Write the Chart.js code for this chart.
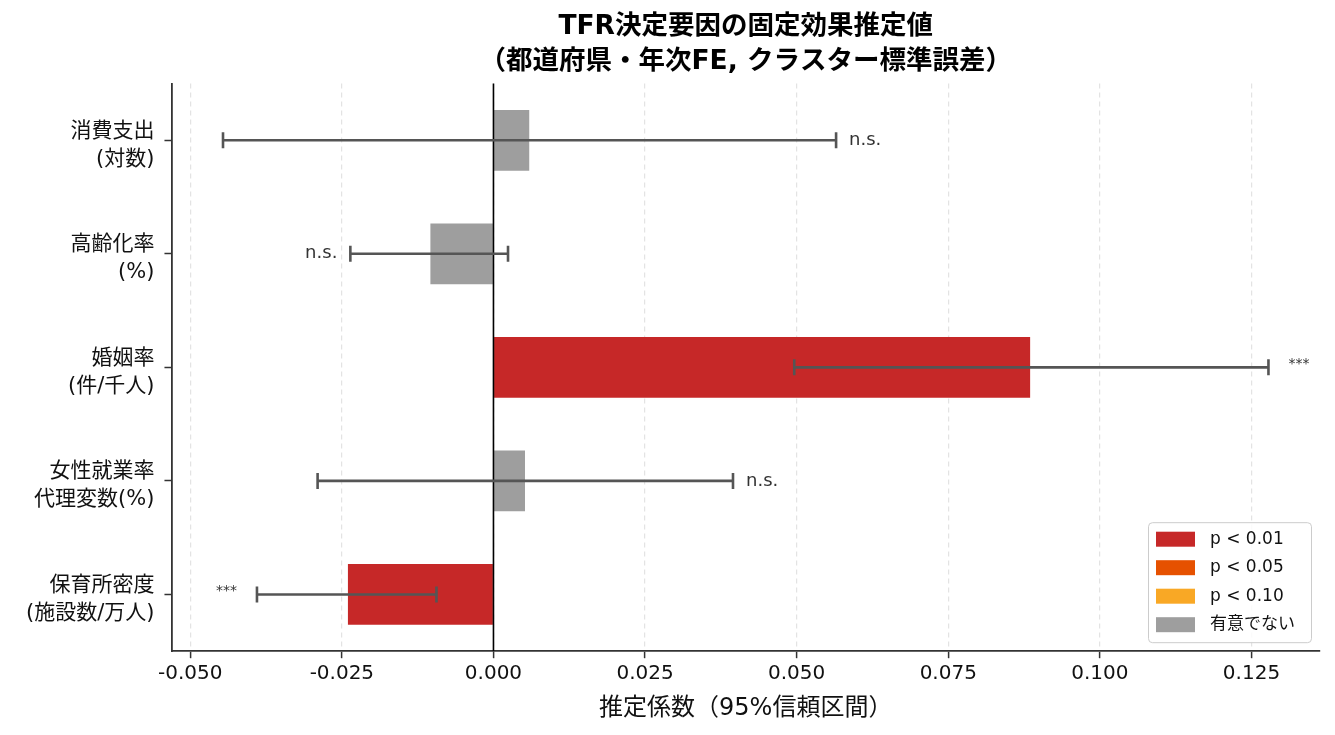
<!DOCTYPE html>
<html lang="ja">
<head>
<meta charset="utf-8">
<title>TFR決定要因の固定効果推定値</title>
<script src="https://cdn.jsdelivr.net/npm/chart.js@4.4.1/dist/chart.umd.min.js"></script>
<style>
    html, body { margin: 0; padding: 0; background: #fff; }
    #wrap { width: 1335px; height: 735px; }
</style>
</head>
<body>
<div id="wrap"><canvas id="bar" width="1335" height="735"></canvas></div>
<script>
'use strict';

// 説明変数（上から順）
const categories = [
    ['消費支出', '(対数)'],
    ['高齢化率', '(%)'],
    ['婚姻率', '(件/千人)'],
    ['女性就業率', '代理変数(%)'],
    ['保育所密度', '(施設数/万人)']
];

// 推定係数と95%信頼区間
const coef   = [0.0059, -0.0104, 0.0885, 0.0052, -0.0240];
const ciLow  = [-0.0446, -0.0236, 0.0496, -0.0290, -0.0390];
const ciHigh = [0.0565, 0.0024, 0.1278, 0.0395, -0.0094];

// 有意性ラベル
const sigLabels = ['n.s.', 'n.s.', '***', 'n.s.', '***'];

// x軸の目盛り
const xTicks = [-0.05, -0.025, 0, 0.025, 0.05, 0.075, 0.1, 0.125];

// 凡例
const legendLabels = ['p < 0.01', 'p < 0.05', 'p < 0.10', '有意でない'];
const legendColors = ['#c62828', '#e65100', '#f9a825', '#9e9e9e'];

// 欧文は DejaVu、和文は Noto CJK にフォールバック
const FONT = '"DejaVu Sans", "Noto Sans CJK JP", sans-serif';
Chart.defaults.font.family = FONT;

// 有意性 -> 色
function sigColor(s) {
    if (s === '***') return legendColors[0];
    if (s === '**') return legendColors[1];
    if (s === '*') return legendColors[2];
    return legendColors[3];
}

// 誤差棒・ゼロ線・注記・凡例を描くプラグイン
const overlay = {
    id: 'overlay',
    afterDraw(chart) {
        const ctx = chart.ctx;
        const xs = chart.scales.x;
        const ys = chart.scales.y;
        const area = chart.chartArea;

        ctx.save();
        // ゼロ線
        const x0 = xs.getPixelForValue(0);
        ctx.strokeStyle = '#000';
        ctx.lineWidth = 1.6;
        ctx.beginPath();
        ctx.moveTo(x0, area.top);
        ctx.lineTo(x0, area.bottom);
        ctx.stroke();

        // 誤差棒
        ctx.strokeStyle = '#555';
        ctx.lineWidth = 2.6;
        for (let i = 0; i < coef.length; i++) {
            const y = ys.getPixelForValue(i);
            const a = xs.getPixelForValue(ciLow[i]);
            const b = xs.getPixelForValue(ciHigh[i]);
            ctx.beginPath();
            ctx.moveTo(a, y); ctx.lineTo(b, y);
            ctx.moveTo(a, y - 8); ctx.lineTo(a, y + 8);
            ctx.moveTo(b, y - 8); ctx.lineTo(b, y + 8);
            ctx.stroke();

            // 注記（*** は少し上に）
            const s = sigLabels[i];
            const ns = s === 'n.s.';
            ctx.fillStyle = '#333';
            ctx.textBaseline = 'middle';
            ctx.font = (ns ? '18px ' : '14px ') + FONT;
            const off = ns ? 13 : 20;
            const ty = ns ? y : y - 3;
            if (coef[i] >= 0) {
                ctx.textAlign = 'left';
                ctx.fillText(s, b + off, ty);
            } else {
                ctx.textAlign = 'right';
                ctx.fillText(s, a - off, ty);
            }
        }

        // 凡例
        const w = 163, h = 120;
        const lx = area.right - 9 - w;
        const ly = area.bottom - 9 - h;
        ctx.fillStyle = 'rgba(255,255,255,0.85)';
        ctx.strokeStyle = '#ccc';
        ctx.lineWidth = 1;
        ctx.beginPath();
        ctx.roundRect(lx + 0.5, ly + 0.5, w, h, 4);
        ctx.fill();
        ctx.stroke();
        ctx.font = '17px ' + FONT;
        ctx.textAlign = 'left';
        ctx.textBaseline = 'middle';
        for (let i = 0; i < legendLabels.length; i++) {
            const cy = ly + 17 + i * 28.5;
            ctx.fillStyle = legendColors[i];
            ctx.fillRect(lx + 8, cy - 7.5, 39, 15);
            ctx.fillStyle = '#111';
            ctx.fillText(legendLabels[i], lx + 62, cy);
        }
        ctx.restore();
    }
};

const bar = document.getElementById('bar');
const barChart = new Chart(bar, {
    type: 'bar',
    data: {
        labels: categories,
        datasets: [{
            data: coef,
            backgroundColor: sigLabels.map(sigColor),
            borderWidth: 0,
            barPercentage: 0.535,
            categoryPercentage: 1.0
        }]
    },
    options: {
        indexAxis: 'y',
        responsive: false,
        animation: false,
        devicePixelRatio: 1,
        layout: { padding: { left: 16, right: 15, top: 0, bottom: 12 } },
        plugins: {
            legend: { display: false },
            tooltip: { enabled: false },
            title: {
                display: true,
                fullSize: false,
                text: ['TFR決定要因の固定効果推定値', '（都道府県・年次FE, クラスター標準誤差）'],
                color: '#000',
                font: { size: 26.5, weight: 'bold', lineHeight: 1.33 },
                padding: { top: 9, bottom: 4 }
            }
        },
        scales: {
            x: {
                type: 'linear',
                min: -0.0531,
                max: 0.1363,
                z: 1,
                afterBuildTicks: (s) => { s.ticks = xTicks.map(v => ({ value: v })); },
                grid: {
                    color: 'rgba(176,176,176,0.35)',
                    lineWidth: 1.2,
                    tickColor: '#333',
                    tickLength: 7,
                    tickWidth: 1.5
                },
                border: { display: true, color: '#333', width: 1.8, dash: [5, 4] },
                ticks: {
                    font: { size: 20 },
                    color: '#111',
                    padding: 4,
                    maxRotation: 0,
                    callback: (v) => Number(v).toFixed(3)
                },
                title: {
                    display: true,
                    text: '推定係数（95%信頼区間）',
                    color: '#111',
                    font: { size: 24 },
                    padding: { top: 4, bottom: 0 }
                }
            },
            y: {
                type: 'category',
                offset: true,
                grid: {
                    offset: false,
                    drawOnChartArea: false,
                    drawTicks: true,
                    tickLength: 7,
                    tickColor: '#333',
                    tickWidth: 1.5
                },
                border: { color: '#333', width: 1.8 },
                ticks: {
                    font: { size: 21, lineHeight: 1.33 },
                    color: '#111',
                    padding: 10,
                    labelOffset: 5
                }
            }
        }
    },
    plugins: [overlay]
});
</script>
</body>
</html>
